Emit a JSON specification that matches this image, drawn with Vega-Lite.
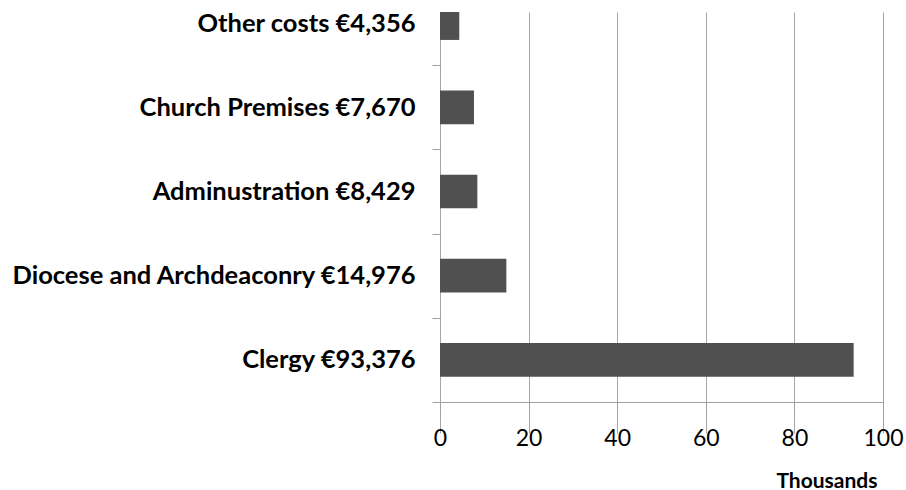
{
  "$schema": "https://vega.github.io/schema/vega-lite/v6.json",
  "autosize": "none",
  "padding": {"left": 440, "top": 12, "right": 23, "bottom": 88},
  "width": 443,
  "height": 390,
  "background": "white",
  "config": {"view": {"stroke": null}},
  "data": {
    "values": [
      {"category": "Other costs €4,356", "value": 4.356},
      {"category": "Church Premises €7,670", "value": 7.67},
      {"category": "Adminustration €8,429", "value": 8.429},
      {"category": "Diocese and Archdeaconry €14,976", "value": 14.976},
      {"category": "Clergy €93,376", "value": 93.376}
    ]
  },
  "mark": {"type": "bar", "color": "#505050", "clip": true},
  "encoding": {
    "y": {
      "field": "category",
      "type": "nominal",
      "sort": null,
      "scale": {"range": [-31, 390], "paddingInner": 0.6, "paddingOuter": 0.3},
      "axis": {
        "title": null,
        "domain": false,
        "tickOffset": 42,
        "labelOffset": -42,
        "tickSize": 8,
        "tickColor": "#a0a0a0",
        "labelPadding": 17,
        "labelFont": "Lato",
        "labelFontWeight": "bold",
        "labelFontSize": 25.5,
        "labelColor": "#000000",
        "labelLimit": 500
      }
    },
    "x": {
      "field": "value",
      "type": "quantitative",
      "scale": {"domain": [0, 100], "nice": false},
      "axis": {
        "values": [0, 20, 40, 60, 80, 100],
        "title": "Thousands",
        "titleFont": "Lato",
        "titleFontWeight": "bold",
        "titleFontSize": 21,
        "titleColor": "#000000",
        "titleAnchor": "end",
        "titleAlign": "right",
        "titleBaseline": "alphabetic",
        "titleX": 437,
        "titleY": 85,
        "domainColor": "#a0a0a0",
        "tickColor": "#a0a0a0",
        "tickSize": 8,
        "gridColor": "#a6a6a6",
        "grid": true,
        "labelFont": "Lato",
        "labelFontSize": 23,
        "labelColor": "#000000",
        "labelPadding": 17,
        "labelFlush": false,
        "labelOverlap": false
      }
    }
  }
}
